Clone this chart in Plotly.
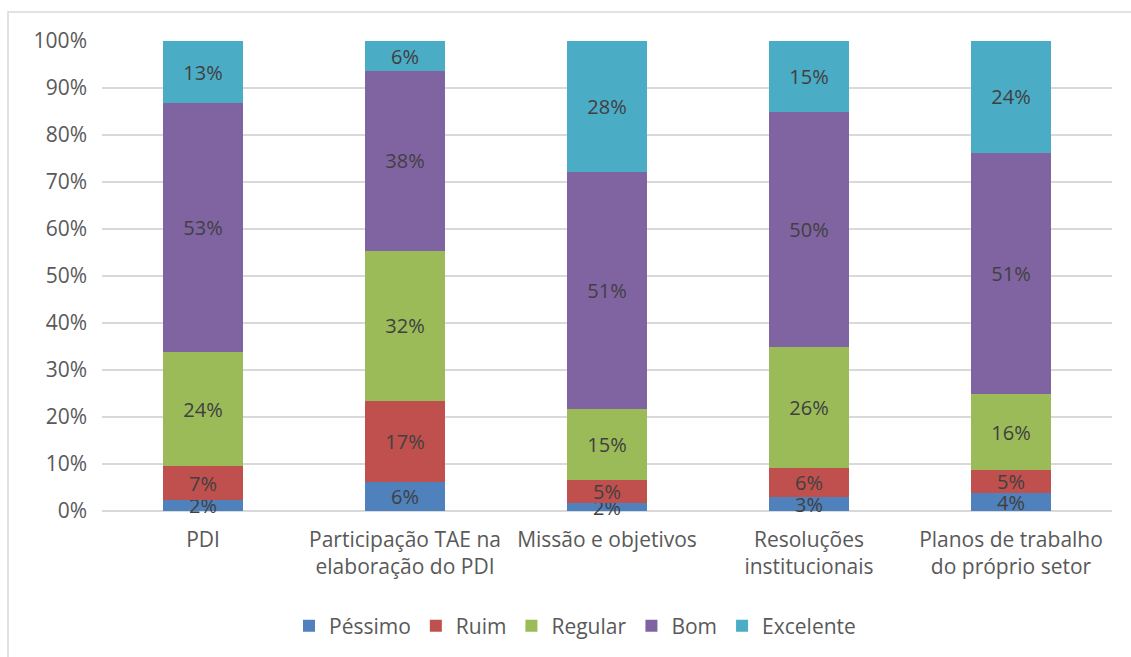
import plotly.graph_objects as go

# Avaliação por item (percentual de respostas)
categorias = [
    "PDI",
    "Participação TAE na<br>elaboração do PDI",
    "Missão e objetivos",
    "Resoluções<br>institucionais",
    "Planos de trabalho<br>do próprio setor",
]
pessimo = [2.3, 6.2, 1.6, 2.9, 3.8]
ruim = [7.3, 17.3, 5.0, 6.2, 5.0]
regular = [24.2, 31.9, 15.0, 25.9, 16.0]
bom = [53.0, 38.2, 50.6, 49.9, 51.4]
excelente = [13.2, 6.4, 27.8, 15.1, 23.8]

ticks_y = list(range(0, 101, 10))
ticks_y_texto = [f"{v}%" for v in ticks_y]

series = [
    ("Péssimo", pessimo, "#4F81BD"),
    ("Ruim", ruim, "#C0504D"),
    ("Regular", regular, "#9BBB59"),
    ("Bom", bom, "#8064A2"),
    ("Excelente", excelente, "#4BACC6"),
]

FONT = "'Open Sans', sans-serif"
FS = 21

fig = go.Figure()
for nome, valores, cor in series:
    fig.add_trace(go.Bar(
        name=nome,
        x=categorias,
        y=valores,
        marker=dict(color=cor, line=dict(width=0)),
        text=valores,
        texttemplate="%{y:.0f}%",
        textposition="inside",
        insidetextanchor="middle",
        constraintext="none",
        textangle=0,
        textfont=dict(family=FONT, size=20, color="#404040"),
        cliponaxis=False,
    ))

W, H = 1131, 657
L, R, T, B = 102, 19, 41, 145
pw, ph = W - L - R, H - T - B


def px_x(p):
    return (p - L) / pw


def px_y(p):
    return (H - B - p) / ph


# moldura da área do gráfico
fig.add_shape(
    type="path", xref="paper", yref="paper",
    path=f"M {px_x(8)} {px_y(H + 5)} L {px_x(8)} {px_y(12)} L {px_x(W + 5)} {px_y(12)}",
    line=dict(color="#D9D9D9", width=1.5),
)

fig.update_layout(
    width=W, height=H,
    margin=dict(l=L, r=R, t=T, b=B),
    paper_bgcolor="white", plot_bgcolor="white",
    barmode="stack",
    bargap=0.6,
    font=dict(family=FONT, size=FS, color="#595959"),
    showlegend=True,
    legend=dict(
        orientation="h", x=px_x(575), xanchor="center", y=px_y(626), yanchor="middle",
        font=dict(family=FONT, size=FS, color="#595959"),
        itemwidth=30, traceorder="normal",
    ),
    xaxis=dict(
        showgrid=False, showline=False, ticks="",
        tickfont=dict(family=FONT, size=FS, color="#595959"),
        ticklabelstandoff=14,
    ),
    yaxis=dict(
        range=[0, 100], tickmode="array", tickvals=ticks_y, ticktext=ticks_y_texto,
        showgrid=True, gridcolor="#D9D9D9", gridwidth=1.5,
        zeroline=True, zerolinecolor="#D9D9D9", zerolinewidth=1.5,
        showline=False, ticks="",
        tickfont=dict(family=FONT, size=FS, color="#595959"),
        ticklabelstandoff=14,
    ),
)

fig.write_html("out.html")
